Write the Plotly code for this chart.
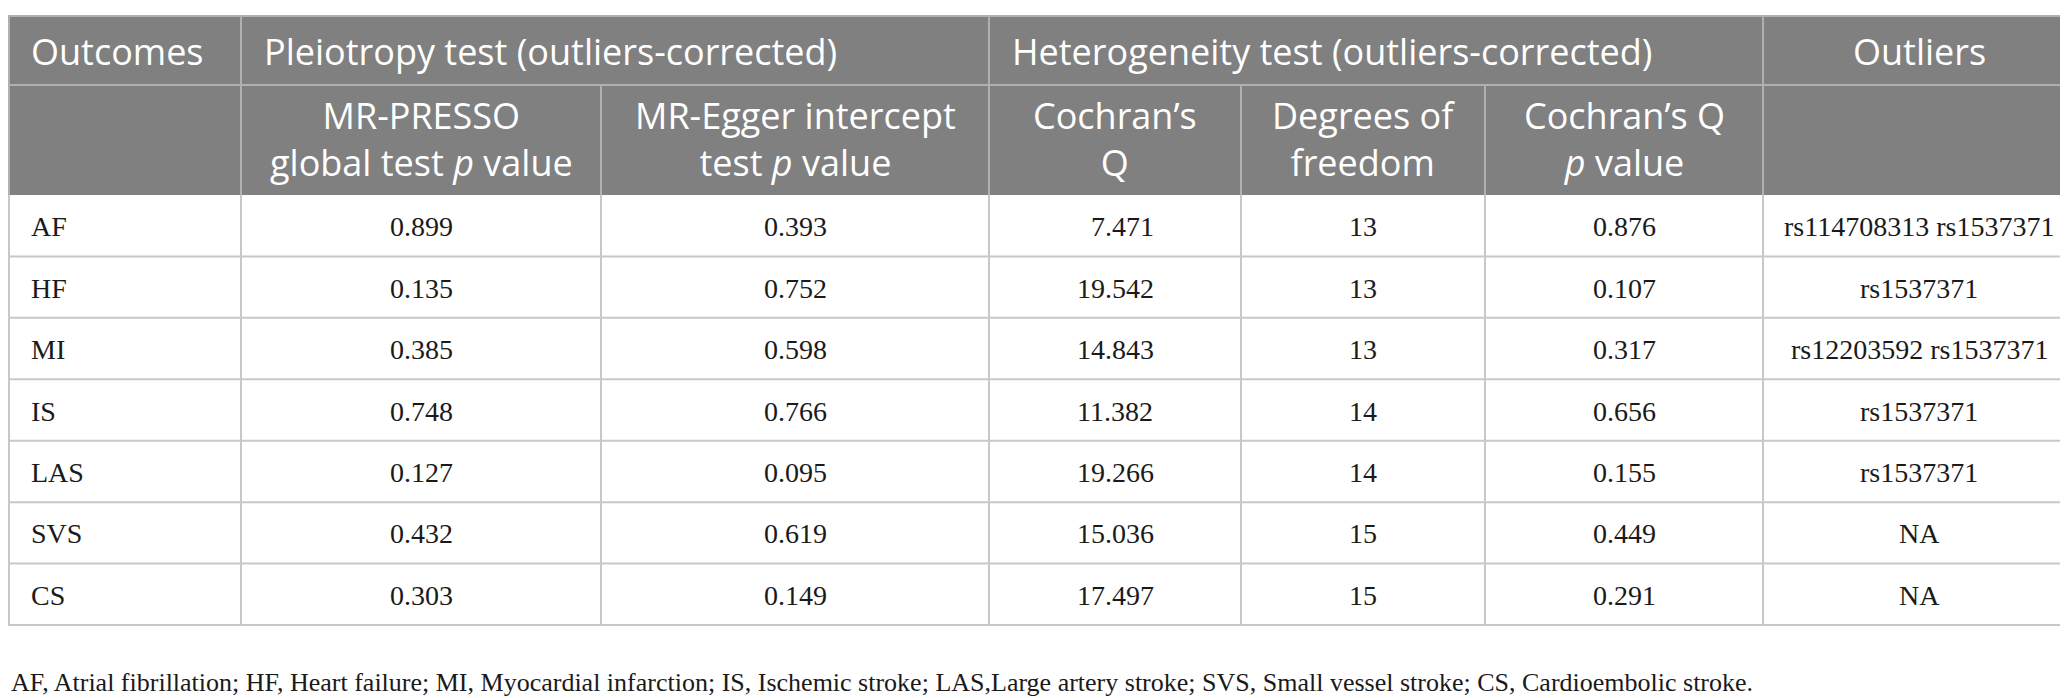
import plotly.graph_objects as go

# ---- data ----
outcomes = ["AF", "HF", "MI", "IS", "LAS", "SVS", "CS"]
presso_p = ["0.899", "0.135", "0.385", "0.748", "0.127", "0.432", "0.303"]
egger_p = ["0.393", "0.752", "0.598", "0.766", "0.095", "0.619", "0.149"]
cochran_q = ["7.471", "19.542", "14.843", "11.382", "19.266", "15.036", "17.497"]
deg_free = ["13", "13", "13", "14", "14", "15", "15"]
q_pvalue = ["0.876", "0.107", "0.317", "0.656", "0.155", "0.449", "0.291"]
outliers = ["rs114708313 rs1537371", "rs1537371", "rs12203592 rs1537371",
            "rs1537371", "rs1537371", "NA", "NA"]

group_headers = ["Outcomes", "Pleiotropy test (outliers-corrected)",
                 "Heterogeneity test (outliers-corrected)", "Outliers"]
sub_headers = [
    ("MR-PRESSO", "global test <i>p</i> value"),
    ("MR-Egger intercept", "test <i>p</i> value"),
    ("Cochran\u2019s", "Q"),
    ("Degrees of", "freedom"),
    ("Cochran\u2019s Q", "<i>p</i> value"),
]
footnote = ("AF, Atrial fibrillation; HF, Heart failure; MI, Myocardial infarction; "
            "IS, Ischemic stroke; LAS,Large artery stroke; SVS, Small vessel stroke; "
            "CS, Cardioembolic stroke.")

# ---- layout geometry (pixels) ----
W, H = 2068, 698
col_edges = [0, 233, 593, 981, 1233, 1477, 1755, 2067]
y_top, y_h1, y_h2, y_bot = 8, 77, 187, 617
n = len(outcomes)
row_h = (y_bot - y_h2) / n

HEAD_BG = "#808080"
HEAD_LINE = "#b0b0b0"
GRID = "#c8c8c8"
HFONT = "Open Sans"
BFONT = "Liberation Serif"
HSIZE = 36

fig = go.Figure()
shapes = []
annotations = []

# header background
shapes.append(dict(type="rect", x0=0, x1=W, y0=y_top, y1=y_h2,
                   fillcolor=HEAD_BG, line=dict(width=0), layer="below"))

def line(x0, y0, x1, y1, color, w=2):
    shapes.append(dict(type="line", x0=x0, y0=y0, x1=x1, y1=y1,
                       line=dict(color=color, width=w)))

# header lines
line(0, y_top, W, y_top, HEAD_LINE)
line(0, y_h1, W, y_h1, HEAD_LINE)
for xe in [233, 981, 1755]:
    line(xe, y_top, xe, y_h2, HEAD_LINE)
for xe in [593, 1233, 1477]:
    line(xe, y_h1, xe, y_h2, HEAD_LINE)
line(1, y_top, 1, y_h2, HEAD_LINE)
line(W - 1, y_top, W - 1, y_h2, HEAD_LINE)

# body grid
for i in range(1, n + 1):
    yy = y_h2 + i * row_h
    line(0, yy, W, yy, GRID)
for xe in col_edges[1:-1]:
    line(xe, y_h2, xe, y_bot, GRID)
line(1, y_h2, 1, y_bot, GRID)
line(W - 1, y_h2, W - 1, y_bot, GRID)

def ann(x, y, text, font, size, xanchor="center", color="black"):
    annotations.append(dict(x=x, y=y, xref="x", yref="y", text=text,
                            showarrow=False, xanchor=xanchor, yanchor="middle",
                            align=xanchor if xanchor != "middle" else "center",
                            font=dict(family=font, size=size, color=color)))

# group header row
hy = (y_top + y_h1) / 2 + 1
ann(col_edges[0] + 21, hy, group_headers[0], HFONT, HSIZE, "left", "white")
ann(col_edges[1] + 21, hy, group_headers[1], HFONT, HSIZE, "left", "white")
ann(col_edges[3] + 21, hy, group_headers[2], HFONT, HSIZE, "left", "white")
ann((col_edges[6] + col_edges[7]) / 2, hy, group_headers[3], HFONT, HSIZE, "center", "white")

# sub header row
for j, (l1, l2) in enumerate(sub_headers):
    cx = (col_edges[j + 1] + col_edges[j + 2]) / 2
    ann(cx, 131, l1 + "<br>" + l2, HFONT, HSIZE, "center", "white")

# body
columns = [presso_p, egger_p,
           [q.rjust(6, "\u2007") for q in cochran_q],
           deg_free, q_pvalue, outliers]
for i in range(n):
    cy = y_h2 + (i + 0.5) * row_h + 1
    ann(col_edges[0] + 21, cy, outcomes[i], BFONT, 28, "left", "#1a1a1a")
    for j, col in enumerate(columns):
        cx = (col_edges[j + 1] + col_edges[j + 2]) / 2
        ann(cx, cy, col[i], BFONT, 28, "center", "#1a1a1a")

# footnote
ann(1, 674, footnote, BFONT, 26, "left", "#1a1a1a")

fig.update_layout(
    width=W, height=H,
    margin=dict(l=0, r=0, t=0, b=0),
    paper_bgcolor="white", plot_bgcolor="white",
    xaxis=dict(range=[0, W], visible=False, fixedrange=True),
    yaxis=dict(range=[H, 0], visible=False, fixedrange=True),
    shapes=shapes, annotations=annotations, showlegend=False,
)
fig.write_html("out.html")
